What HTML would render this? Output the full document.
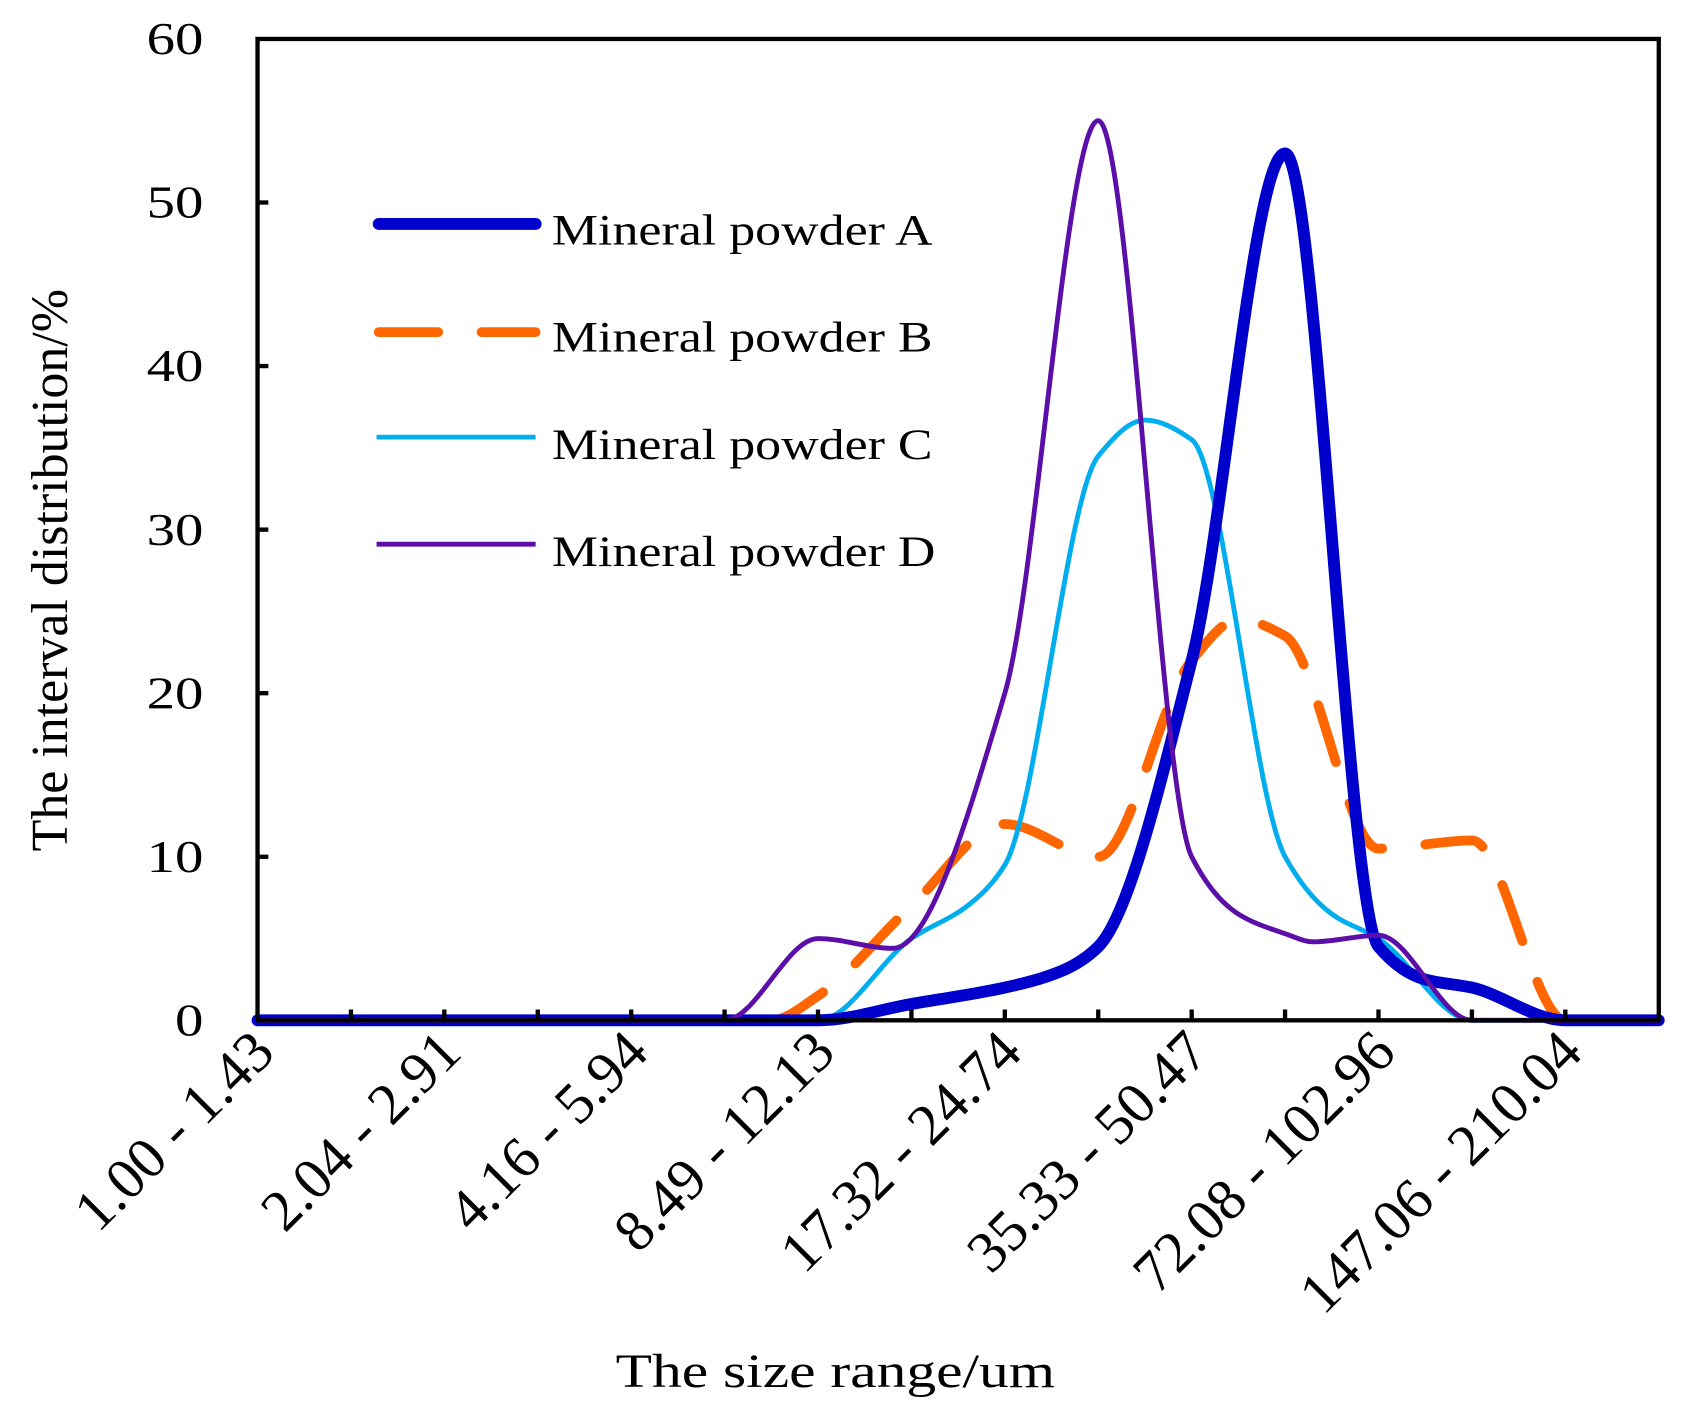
<!DOCTYPE html>
<html><head><meta charset="utf-8"><style>
html,body{margin:0;padding:0;background:#fff;}
svg{display:block;}
text{font-family:"Liberation Serif",serif;fill:#000;}
</style></head><body>
<svg id="s" width="1688" height="1404" viewBox="0 0 1560 1297.6" preserveAspectRatio="none">
<rect x="0" y="0" width="1560" height="1297.6" fill="#fff"/>
<g id="series"></g>
<rect x="238" y="36" width="1295" height="907" fill="none" stroke="#000" stroke-width="4"/>
<g id="ticks" stroke="#000" stroke-width="4"></g>
<g font-size="42" text-anchor="end" id="yl"></g>
<g id="xl" font-size="54" text-anchor="end"></g>
<text transform="translate(772,1282) scale(1.25,1)" font-size="44" text-anchor="middle">The size range/um</text>
<text transform="translate(62,527) rotate(-90)" font-size="48" text-anchor="middle">The interval distribution/%</text>
<line x1="350" y1="207" x2="495" y2="207" stroke="#0000CC" stroke-width="11" stroke-linecap="round"/>
<line x1="350" y1="307" x2="495" y2="307" stroke="#FF6600" stroke-width="9" stroke-linecap="round" stroke-dasharray="55,40"/>
<line x1="348" y1="404" x2="495" y2="404" stroke="#00AEEF" stroke-width="4.5"/>
<line x1="348" y1="503" x2="495" y2="503" stroke="#5B0FA8" stroke-width="4.5"/>
<g font-size="40">
<text transform="translate(510,226) scale(1.2,1)">Mineral powder A</text>
<text transform="translate(510,325) scale(1.2,1)">Mineral powder B</text>
<text transform="translate(510,424) scale(1.2,1)">Mineral powder C</text>
<text transform="translate(510,523) scale(1.2,1)">Mineral powder D</text>
</g>
</svg>
<script>
var NS="http://www.w3.org/2000/svg";
function X(i){return 238+86.33*i;}
function Y(v){return 943-v*15.117;}
function path(pts){
 var p=pts.map(function(a){return [X(a[0]),Y(a[1])];});
 var n=p.length,d=[],m=[];
 for(var i=0;i<n-1;i++)d.push((p[i+1][1]-p[i][1])/(p[i+1][0]-p[i][0]));
 m[0]=d[0];m[n-1]=d[n-2];
 for(var i=1;i<n-1;i++){ if(d[i-1]*d[i]<=0)m[i]=0; else { var h0=p[i][0]-p[i-1][0],h1=p[i+1][0]-p[i][0]; var w1=2*h1+h0,w2=h1+2*h0; m[i]=(w1+w2)/(w1/d[i-1]+w2/d[i]); } }
 var s="M"+p[0][0]+","+p[0][1];
 for(var i=0;i<n-1;i++){var h=(p[i+1][0]-p[i][0])/3;
  s+=" C"+(p[i][0]+h)+","+(p[i][1]+m[i]*h)+" "+(p[i+1][0]-h)+","+(p[i+1][1]-m[i+1]*h)+" "+p[i+1][0]+","+p[i+1][1];}
 return s;
}
function add(pts,col,w,dash){
 var e=document.createElementNS(NS,"path");
 e.setAttribute("d",path(pts));e.setAttribute("fill","none");
 e.setAttribute("stroke",col);e.setAttribute("stroke-width",w);
 e.setAttribute("stroke-linecap","round");e.setAttribute("stroke-linejoin","round");
 if(dash)e.setAttribute("stroke-dasharray",dash);
 document.getElementById("series").appendChild(e);
}
var B=[[0,0],[5,0],[5.5,0],[6,1.5],[7,7],[8,12],[9,10],[10,22],[10.5,24.5],[11,23.5],[12,10.5],[13,11],[14,0],[15,0]];
var C=[[0,0],[6,0],[7,5],[7.6,7],[8,9.5],[9,34.5],[9.5,36.7],[10,35.5],[11,10],[11.5,6.5],[12,5],[13,0],[15,0]];
var A=[[0,0],[6,0],[7,1],[8,2],[8.6,3],[9,4.5],[10,22],[11,53],[12,4.5],[12.5,2.5],[13,2],[14,0],[15,0]];
var D=[[0,0],[5,0],[6,5],[6.8,4.4],[8,20],[9,55],[10,10],[10.5,6.5],[11,5.3],[11.3,4.8],[12,5.2],[13,0],[15,0]];
add(B,"#FF6600",9,"55,40");
add(C,"#00AEEF",4.5);
add(A,"#0000CC",11);
add(D,"#5B0FA8",4.5);
var tk=document.getElementById("ticks"),xl=document.getElementById("xl"),yl=document.getElementById("yl");
for(var i=1;i<15;i++){var l=document.createElementNS(NS,"line");l.setAttribute("x1",X(i));l.setAttribute("x2",X(i));l.setAttribute("y1",943);l.setAttribute("y2",933);tk.appendChild(l);}
for(var v=0;v<=60;v+=10){ if(v>0&&v<60){var l=document.createElementNS(NS,"line");l.setAttribute("x1",238);l.setAttribute("x2",248);l.setAttribute("y1",Y(v));l.setAttribute("y2",Y(v));tk.appendChild(l);}
 var t=document.createElementNS(NS,"text");t.setAttribute("transform","translate(188,"+(Y(v)+14)+") scale(1.25,1)");t.textContent=v;yl.appendChild(t);}
var labs=["1.00 - 1.43","2.04 - 2.91","4.16 - 5.94","8.49 - 12.13","17.32 - 24.74","35.33 - 50.47","72.08 - 102.96","147.06 - 210.04"];
labs.forEach(function(s,k){var t=document.createElementNS(NS,"text");var x=X(2*k)+18,y=975;t.setAttribute("transform","translate("+x+","+y+") rotate(-45)");t.textContent=s;xl.appendChild(t);});
</script>
</body></html>
